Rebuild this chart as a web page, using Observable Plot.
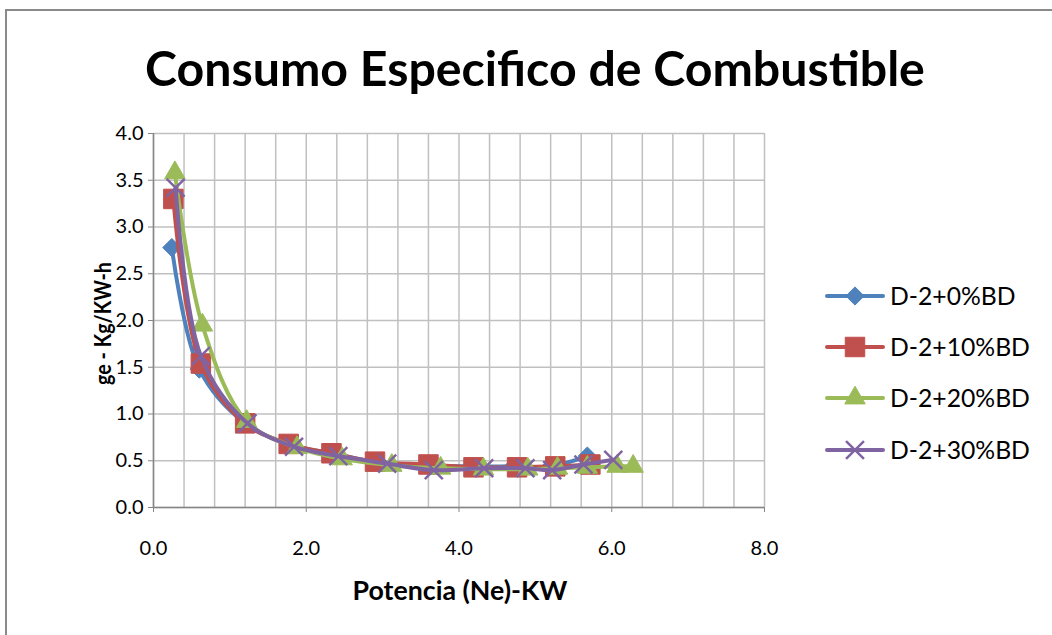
<!DOCTYPE html>
<html>
<head>
<meta charset="utf-8">
<script src="https://cdn.jsdelivr.net/npm/d3@7"></script>
<script src="https://cdn.jsdelivr.net/npm/@observablehq/plot@0.6"></script>
<style>
  html, body { margin: 0; padding: 0; background: #fff; }
  body { width: 1052px; height: 635px; position: relative; overflow: hidden; font-family: Lato, "Open Sans", sans-serif; color: #000; }
  #frame { position: absolute; left: 5px; top: 9px; width: 1100px; height: 700px; border-top: 2px solid #8a8a8a; border-left: 2px solid #8a8a8a; }
  #title { position: absolute; top: 38px; left: 0; white-space: nowrap; }
  #title span { font-weight: 700; font-size: 46px; display: inline-block; }
  #chart { position: absolute; left: 0; top: 110px; }
  .lab { position: absolute; font-weight: 700; white-space: nowrap; }
  #legend { position: absolute; left: 824px; top: 0; }
  .item { position: absolute; left: 0; display: flex; align-items: center; white-space: nowrap; }
  .item span { font-size: 22px; margin-left: 4px; }
</style>
</head>
<body>
<div id="frame"></div>
<div id="title"><span id="titletext">Consumo Especifico de Combustible</span></div>
<div id="chart"></div>
<div id="xlab" class="lab">Potencia (Ne)-KW</div>
<div id="ylab" class="lab">ge - Kg/KW-h</div>
<div id="legend"></div>
<script>
// ---- data ----
const seriesNames = ["D-2+0%BD", "D-2+10%BD", "D-2+20%BD", "D-2+30%BD"];
const seriesColors = ["#4F81BD", "#C0504D", "#9BBB59", "#8064A2"];

const x0  = [0.24, 0.60, 1.20, 1.80, 2.40, 2.95, 3.60, 4.17, 4.71, 5.20, 5.68];
const y0  = [2.78, 1.48, 0.90, 0.67, 0.57, 0.48, 0.45, 0.44, 0.44, 0.44, 0.55];

const x10 = [0.26, 0.62, 1.20, 1.77, 2.33, 2.90, 3.60, 4.19, 4.76, 5.26, 5.72];
const y10 = [3.30, 1.54, 0.90, 0.68, 0.58, 0.49, 0.46, 0.43, 0.43, 0.44, 0.46];

const x20 = [0.28, 0.64, 1.22, 1.88, 2.47, 3.12, 3.76, 4.32, 4.90, 5.29, 5.68, 6.07, 6.28];
const y20 = [3.58, 1.95, 0.92, 0.64, 0.52, 0.45, 0.42, 0.41, 0.41, 0.42, 0.43, 0.44, 0.44];

const x30 = [0.29, 0.62, 1.23, 1.84, 2.42, 3.06, 3.67, 4.33, 4.87, 5.22, 5.63, 6.02];
const y30 = [3.42, 1.62, 0.90, 0.65, 0.55, 0.47, 0.40, 0.42, 0.42, 0.40, 0.46, 0.51];

const xTicks = [0, 2, 4, 6, 8];
const yTicks = [0, 0.5, 1, 1.5, 2, 2.5, 3, 3.5, 4];
const xGrid = d3.range(0, 21).map(i => i * 0.4);

// ---- build tables ----
const xs = [x0, x10, x20, x30];
const ys = [y0, y10, y20, y30];
const tables = seriesNames.map((name, s) => xs[s].map((x, i) => ({series: name, x, y: ys[s][i]})));

const symbols = ["diamond2", "square", "triangle", "times"];
const radii = [8.2, 11, 7.6, 8.2];
const d3symbols = [d3.symbolDiamond2, d3.symbolSquare, d3.symbolTriangle, d3.symbolTimes];

const seriesMarks = [];
tables.forEach((t, s) => {
  seriesMarks.push(Plot.line(t, {x: "x", y: "y", stroke: seriesColors[s], strokeWidth: 4, curve: "catmull-rom", strokeLinecap: "round"}));
  if (symbols[s] === "times") {
    seriesMarks.push(Plot.dot(t, {x: "x", y: "y", symbol: symbols[s], r: radii[s], stroke: seriesColors[s], strokeWidth: 2.5, fill: "none"}));
  } else {
    seriesMarks.push(Plot.dot(t, {x: "x", y: "y", symbol: symbols[s], r: radii[s], fill: seriesColors[s], stroke: seriesColors[s], strokeWidth: 1}));
  }
});

const chart = Plot.plot({
  width: 800,
  height: 510,
  marginLeft: 153,
  marginRight: 36,
  marginTop: 23,
  marginBottom: 113,
  style: {fontFamily: "Lato, 'Open Sans', sans-serif", fontSize: "20px", color: "#000", background: "transparent", overflow: "visible"},
  x: {domain: [0, 8]},
  y: {domain: [0, 4]},
  marks: [
    Plot.ruleX(xGrid, {stroke: "#c0c0c0", strokeWidth: 1.5}),
    Plot.ruleY(yTicks, {stroke: "#c0c0c0", strokeWidth: 1.5}),
    Plot.ruleX([0], {stroke: "#868686", strokeWidth: 1.5}),
    Plot.ruleY([0], {stroke: "#868686", strokeWidth: 1.5}),
    Plot.axisX({ticks: xTicks, tickFormat: d => d.toFixed(1), tickSize: 5, tickPadding: 28, stroke: "#868686", fill: "#000", label: null}),
    Plot.axisY({ticks: yTicks, tickFormat: d => d.toFixed(1), tickSize: 5, tickPadding: 5, stroke: "#868686", fill: "#000", label: null}),
    ...seriesMarks
  ]
});
document.getElementById("chart").appendChild(chart);

// ---- legend ----
const legend = document.getElementById("legend");
const legendY = [295, 346, 397, 449];
const legendSpans = [];
seriesNames.forEach((name, s) => {
  const item = document.createElement("div");
  item.className = "item";
  item.style.top = (legendY[s] - 14) + "px";
  const sw = d3.create("svg").attr("width", 62).attr("height", 28);
  sw.append("line").attr("x1", 3).attr("x2", 59).attr("y1", 14).attr("y2", 14)
    .attr("stroke", seriesColors[s]).attr("stroke-width", 4).attr("stroke-linecap", "round");
  const path = d3.symbol(d3symbols[s], Math.PI * radii[s] * radii[s])();
  const p = sw.append("path").attr("d", path).attr("transform", "translate(31,14)");
  if (symbols[s] === "times") p.attr("fill", "none").attr("stroke", seriesColors[s]).attr("stroke-width", 2.5);
  else p.attr("fill", seriesColors[s]).attr("stroke", seriesColors[s]);
  item.appendChild(sw.node());
  const sp = document.createElement("span");
  sp.textContent = name;
  item.appendChild(sp);
  legend.appendChild(item);
  legendSpans.push(sp);
});

// ---- fit text widths ----
function fitWidth(el, target) {
  const w = el.getBoundingClientRect().width;
  const fs = parseFloat(getComputedStyle(el).fontSize);
  const nfs = fs * target / w;
  el.style.fontSize = nfs + "px";
  return nfs;
}
// legend: fit on the "D-2+10%BD" label, apply same size to all
const lfs = fitWidth(legendSpans[1], 140);
legendSpans.forEach(sp => sp.style.fontSize = lfs + "px");

const title = document.getElementById("titletext");
fitWidth(title, 780);
const titleBox = document.getElementById("title");
titleBox.style.left = (535 - title.getBoundingClientRect().width / 2) + "px";

const xlab = document.getElementById("xlab");
xlab.style.fontSize = "20px";
fitWidth(xlab, 215);
const xr = xlab.getBoundingClientRect();
xlab.style.left = (460 - xr.width / 2) + "px";
xlab.style.top = (590 - xr.height / 2) + "px";

const ylab = document.getElementById("ylab");
ylab.style.fontSize = "20px";
fitWidth(ylab, 123);
const yr = ylab.getBoundingClientRect();
ylab.style.left = (102 - yr.width / 2) + "px";
ylab.style.top = (323 - yr.height / 2) + "px";
ylab.style.transform = "rotate(-90deg) scaleY(1.12)";
</script>
</body>
</html>
